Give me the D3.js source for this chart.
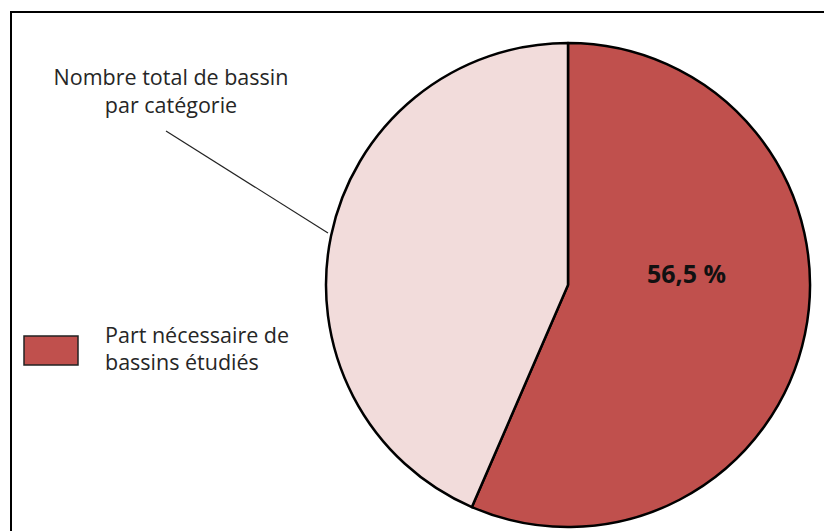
<!DOCTYPE html>
<html>
<head>
<meta charset="utf-8">
<script src="https://cdn.jsdelivr.net/npm/d3@7"></script>
<style>
  body { margin: 0; background: #fff; }
  text { font-family: "Open Sans", Lato, sans-serif; fill: #262626; }
</style>
</head>
<body>
<script>
// pie data
var categories = ["Part nécessaire de bassins étudiés", "Nombre total de bassin par catégorie"];
var values = [56.5, 43.5];
var colors = ["#c0504d", "#f2dcdb"];
var labels = ["56,5 %", ""];

var svgWidth = 824;
var svgHeight = 531;

var svg = d3.select("body")
  .append("svg")
  .attr("width", svgWidth)
  .attr("height", svgHeight);

// frame (runs off the right and bottom edge)
svg.append("rect")
  .attr("x", 11)
  .attr("y", 12)
  .attr("width", 830)
  .attr("height", 540)
  .attr("fill", "none")
  .attr("stroke", "#000")
  .attr("stroke-width", 2);

var cx = 568, cy = 285, radius = 242;

var pie = d3.pie().sort(null).value(d => d);
var arcs = pie(values);
var arc = d3.arc().innerRadius(0).outerRadius(radius);

var pieGroup = svg.append("g").attr("transform", `translate(${cx}, ${cy})`);

pieGroup.selectAll("path")
  .data(arcs)
  .enter()
  .append("path")
  .attr("d", arc)
  .attr("fill", (d, i) => colors[i])
  .attr("stroke", "#000")
  .attr("stroke-width", 2.5)
  .attr("stroke-linejoin", "round");

// value label
var labelArc = d3.arc().innerRadius(radius * 0.5).outerRadius(radius * 0.5);
pieGroup.selectAll("text.val")
  .data(arcs)
  .enter()
  .append("text")
  .attr("class", "val")
  .attr("x", d => labelArc.centroid(d)[0])
  .attr("y", -2)
  .attr("text-anchor", "middle")
  .style("font-size", "25px")
  .style("font-weight", "bold")
  .style("fill", "#111")
  .text((d, i) => labels[i]);

// callout for light slice
var callout = svg.append("g");
callout.append("line")
  .attr("x1", 166).attr("y1", 131)
  .attr("x2", 328).attr("y2", 233)
  .attr("stroke", "#222")
  .attr("stroke-width", 1.2);
callout.append("text")
  .attr("x", 171).attr("y", 85)
  .attr("text-anchor", "middle")
  .style("font-size", "21.5px")
  .text("Nombre total de bassin");
callout.append("text")
  .attr("x", 171).attr("y", 113)
  .attr("text-anchor", "middle")
  .style("font-size", "21.5px")
  .text("par catégorie");

// legend
var legend = svg.append("g");
legend.append("rect")
  .attr("x", 24).attr("y", 336)
  .attr("width", 54).attr("height", 29)
  .attr("fill", colors[0])
  .attr("stroke", "#222")
  .attr("stroke-width", 1.5);
legend.append("text")
  .attr("x", 105).attr("y", 343)
  .style("font-size", "21.5px")
  .text("Part nécessaire de");
legend.append("text")
  .attr("x", 105).attr("y", 370)
  .style("font-size", "21.5px")
  .text("bassins étudiés");
</script>
</body>
</html>
